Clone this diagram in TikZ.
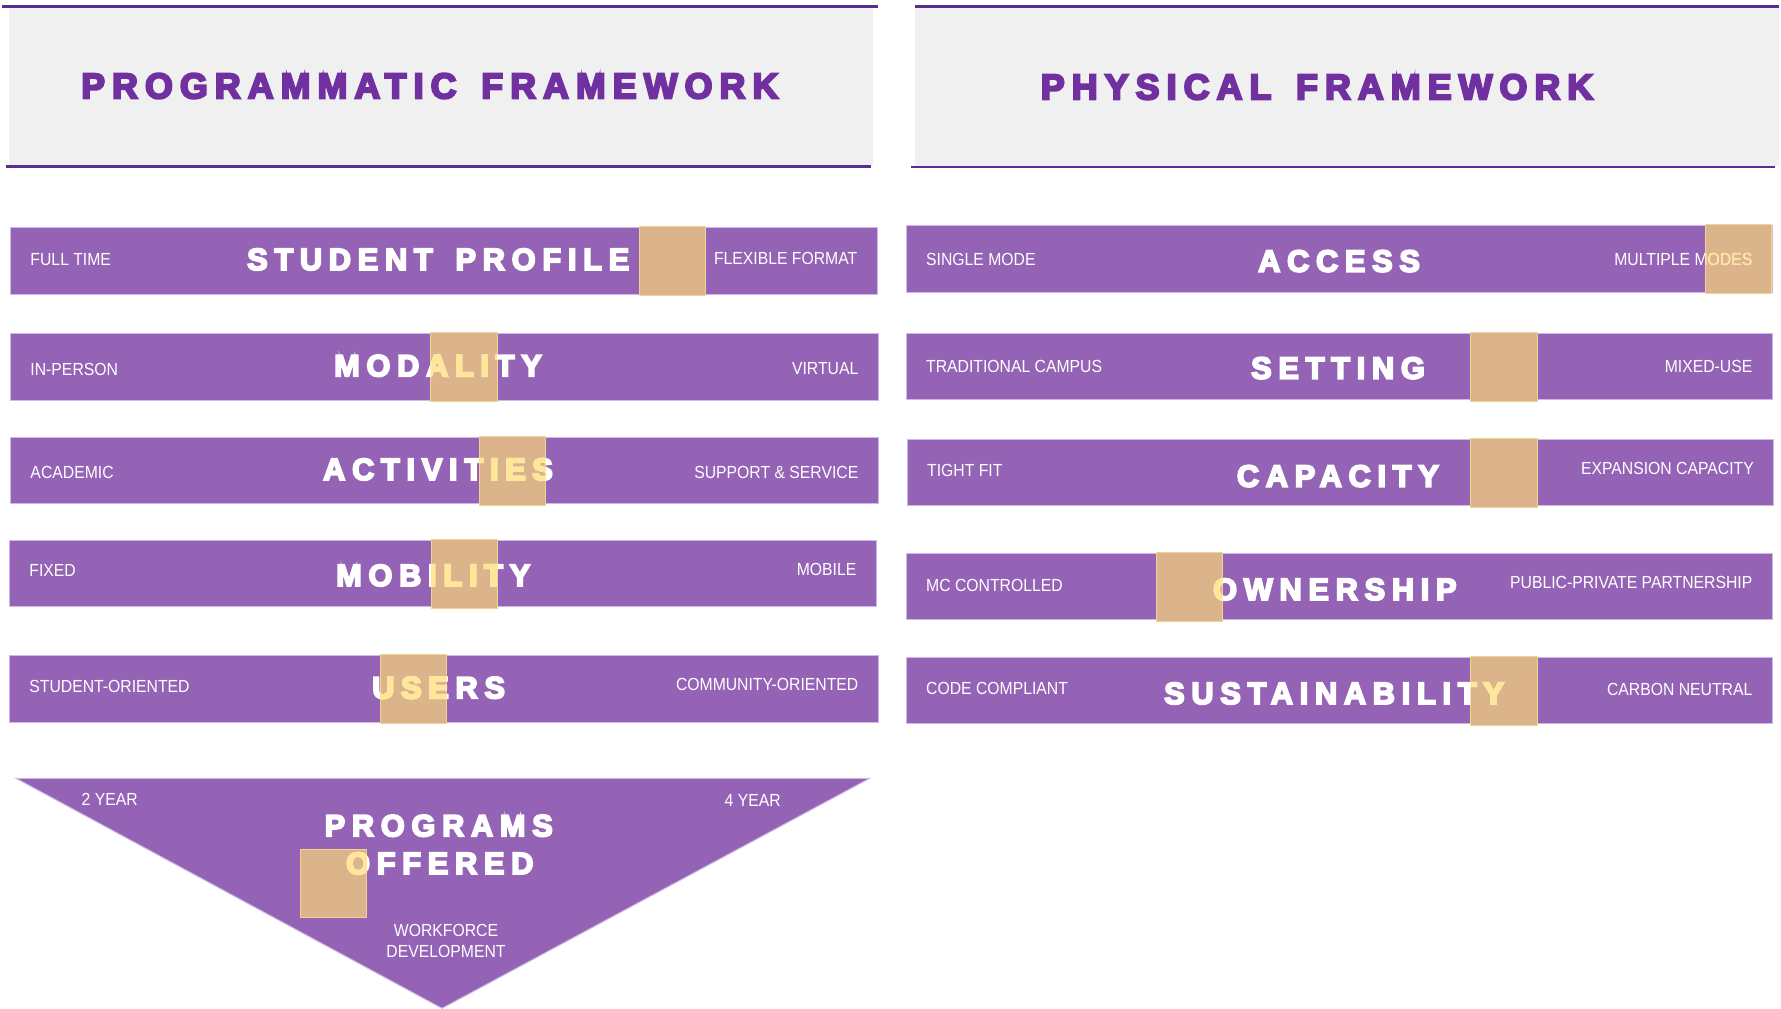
\documentclass[tikz,border=0pt]{standalone}
\usepackage{fontspec}
\setmainfont{Liberation Sans}
\newfontfamily\lblfont{Liberation Sans}[FakeStretch=0.9]
\newfontfamily\ttlfont{Liberation Sans}[LetterSpace=22,WordSpace=1.5,FakeBold=6]
\newfontfamily\hdrfont{Liberation Sans}[LetterSpace=20,WordSpace=1.45,FakeBold=6]
\definecolor{barp}{HTML}{9463B5}
\definecolor{barline}{HTML}{CDB9E6}
\definecolor{tanc}{HTML}{DBB48B}
\definecolor{hl}{HTML}{FFE699}
\definecolor{titlep}{HTML}{7030A0}
\definecolor{linep}{HTML}{5A2D91}
\definecolor{grayf}{HTML}{F0F0F0}
\tikzset{
  lbl/.style={font=\lblfont\fontsize{17.5}{20}\selectfont, inner sep=0pt, text=white},
  ttl/.style={font=\ttlfont\bfseries\fontsize{30.7}{36}\selectfont, inner sep=0pt, text=white},
  hdr/.style={font=\hdrfont\bfseries\fontsize{35.7}{40}\selectfont, inner sep=0pt, text=titlep},
  barbox/.style={fill=barp, draw=barline, line width=1pt},
  tanbox/.style={fill=tanc, draw=hl!60!tanc, line width=1pt},
  rule/.style={draw=linep, line width=2.6pt},
}
\begin{document}
\begin{tikzpicture}[x=1pt,y=-1pt]
\useasboundingbox[fill=white] (0,0) rectangle (1781,1009);
% headers
\fill[grayf] (8.6,7.3) rectangle (872.6,165);
\draw[rule] (2,6.3) -- (878,6.3);
\draw[rule] (5.7,166.5) -- (871,166.5);
\node[hdr, anchor=base west] (hprog) at (81,98.3) {PROGRAMMATIC FRAMEWORK};
\fill[grayf] (915,7.3) rectangle (1779,165.7);
\draw[rule] (915,6.3) -- (1779,6.3);
\draw[rule] (911,167) -- (1775,167);
\node[hdr, anchor=base west] (hphys) at (1040.7,99.3) {PHYSICAL FRAMEWORK};
% bars
\foreach \n/\xa/\ya/\xb/\tx/\L/\lY/\T/\tX/\tY/\R/\rY in {
 sp/10.3/227.7/877/639/{FULL TIME}/265.7/{STUDENT PROFILE}/248/270/{FLEXIBLE FORMAT}/264,
 mo/10.3/333.7/878/430.5/{IN-PERSON}/375/{MODALITY}/335/376.3/{VIRTUAL}/374,
 ac/10.3/437.3/878/479/{ACADEMIC}/478.3/{ACTIVITIES}/324/480/{SUPPORT \& SERVICE}/478.3,
 mb/9.2/540.3/876/431/{FIXED}/576/{MOBILITY}/337/586/{MOBILE}/575,
 us/9.2/655.7/878/380/{STUDENT-ORIENTED}/692.3/{USERS}/373/698.3/{COMMUNITY-ORIENTED}/690.7,
 ax/906/225.7/1772/1705/{SINGLE MODE}/265/{ACCESS}/1259/271.7/{MULTIPLE MODES}/265.7,
 st/906/333/1772/1470.7/{TRADITIONAL CAMPUS}/372.7/{SETTING}/1252/378.7/{MIXED-USE}/372.7,
 cp/907/439.3/1773.5/1470.7/{TIGHT FIT}/476.7/{CAPACITY}/1237.7/486.7/{EXPANSION CAPACITY}/474.7,
 ow/906/553/1772/1156/{MC CONTROLLED}/591/{OWNERSHIP}/1214/600/{PUBLIC-PRIVATE PARTNERSHIP}/588.3,
 su/906/657/1772/1470.7/{CODE COMPLIANT}/694/{SUSTAINABILITY}/1165/704/{CARBON NEUTRAL}/695%
}{
 \path[barbox] (\xa,\ya) rectangle (\xb,\ya+66.5);
 \path[tanbox] (\tx,\ya-1) rectangle (\tx+66.5,\ya+68);
 \node[lbl, anchor=base west] (L\n) at (\xa+20,\lY) {\L};
 \node[ttl, anchor=base west] (T\n) at (\tX-1,\tY) {\T};
 \node[lbl, anchor=base east] (R\n) at (\xb-19.5,\rY) {\R};
 \begin{scope}
  \clip (\tx,\ya-1) rectangle (\tx+66.5,\ya+68);
  \node[lbl, text=hl, anchor=base west] (L\n-y) at (\xa+20,\lY) {\L};
  \node[ttl, text=hl, anchor=base west] (T\n-y) at (\tX-1,\tY) {\T};
  \node[lbl, text=hl, anchor=base east] (R\n-y) at (\xb-19.5,\rY) {\R};
 \end{scope}
}
% triangle
\path[barbox] (16,778.3) -- (869.7,778.3) -- (442,1008.3) -- cycle;
\path[tanbox] (300,849) rectangle (366.8,917.7);
\node[lbl, anchor=base west] (y2) at (81.5,805) {2 YEAR};
\node[lbl, anchor=base west] (y4) at (724.5,806) {4 YEAR};
\node[ttl, anchor=base west] (prog) at (324.5,836.3) {PROGRAMS};
\node[ttl, anchor=base west] (offr) at (346,874) {OFFERED};
\begin{scope}
 \clip (300,849) rectangle (366.8,917.7);
 \node[ttl, text=hl, anchor=base west] (offr-y) at (346,874) {OFFERED};
\end{scope}
\node[lbl, anchor=base] (wf1) at (446,936) {WORKFORCE};
\node[lbl, anchor=base] (wf2) at (446,957.7) {DEVELOPMENT};
\end{tikzpicture}
\end{document}
